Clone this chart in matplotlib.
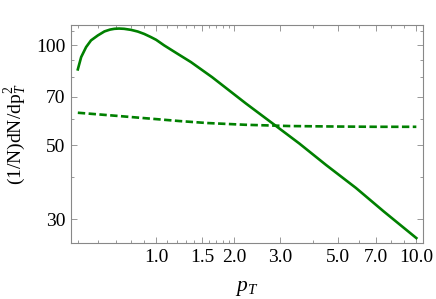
import matplotlib
matplotlib.use("Agg")
import matplotlib.pyplot as plt
from matplotlib.ticker import FixedLocator, NullFormatter

plt.rcParams.update({
    'font.family': 'serif',
    'font.serif': ['Liberation Serif', 'DejaVu Serif'],
    'mathtext.fontset': 'custom',
    'mathtext.rm': 'Liberation Serif',
    'mathtext.it': 'Liberation Serif:italic',
})

# solid curve
pt_solid = [0.50, 0.515, 0.538, 0.562, 0.597, 0.633, 0.665, 0.691, 0.72, 0.753,
            0.80, 0.85, 0.90, 0.954, 1.0, 1.073, 1.207, 1.36, 1.64, 2.21,
            2.89, 3.55, 4.5, 5.86, 7.5, 10.0]
y_solid = [84.5, 92.0, 98.6, 103.3, 106.9, 109.9, 111.3, 111.9, 112.1, 111.9,
           111.1, 109.8, 108.0, 105.7, 103.7, 99.8, 94.2, 88.9, 80.1, 66.8,
           57.1, 50.6, 43.6, 37.2, 31.6, 26.3]

# dashed curve
pt_dash = [0.50, 0.70, 1.0, 1.23, 1.57, 2.2, 3.25, 5.0, 7.0, 10.0]
y_dash = [62.6, 61.3, 59.9, 59.1, 58.3, 57.6, 57.1, 56.9, 56.8, 56.8]

x_major = [1.0, 1.5, 2.0, 3.0, 5.0, 7.0, 10.0]
x_minor = [0.5, 0.6, 0.7, 0.8, 0.9, 1.1, 1.2, 1.3, 1.4, 1.6, 1.7, 1.8, 1.9,
           4.0, 6.0, 8.0, 9.0]
y_major = [30, 50, 70, 100]
y_minor = [40, 60, 80, 90, 110]

green = '#008000'

fig = plt.figure(figsize=(4.36, 2.99), dpi=100)
ax = fig.add_axes([0.163, 0.187, 0.807, 0.729])

ax.plot(pt_solid, y_solid, color=green, lw=1.9, solid_joinstyle='round')
ax.plot(pt_dash, y_dash, color=green, lw=1.9, dashes=(2.8, 1.3))

ax.set_xscale('log')
ax.set_yscale('log')
ax.set_xlim(0.471, 10.6)
ax.set_ylim(25.4, 114.8)

ax.xaxis.set_major_locator(FixedLocator(x_major))
ax.xaxis.set_minor_locator(FixedLocator(x_minor))
ax.set_xticklabels([f'{v:.1f}' for v in x_major])
ax.xaxis.set_minor_formatter(NullFormatter())
ax.yaxis.set_major_locator(FixedLocator(y_major))
ax.yaxis.set_minor_locator(FixedLocator(y_minor))
ax.set_yticklabels([str(v) for v in y_major])
ax.yaxis.set_minor_formatter(NullFormatter())

ax.tick_params(which='both', direction='in', top=True, right=True,
               color='#888888', width=0.6, labelsize=14, pad=4)
ax.tick_params(which='major', length=4)
ax.tick_params(which='minor', length=2)
for s in ax.spines.values():
    s.set_color('#888888')
    s.set_linewidth(0.8)

ax.set_xlabel(r'$p_T$', fontsize=15.5)
ax.xaxis.set_label_coords(0.5, -0.165)
ax.set_ylabel(r'(1/N)dN/dp$_T^2$', fontsize=14)
ax.yaxis.set_label_coords(-0.122, 0.5)

fig.savefig('out.png', dpi=100)
